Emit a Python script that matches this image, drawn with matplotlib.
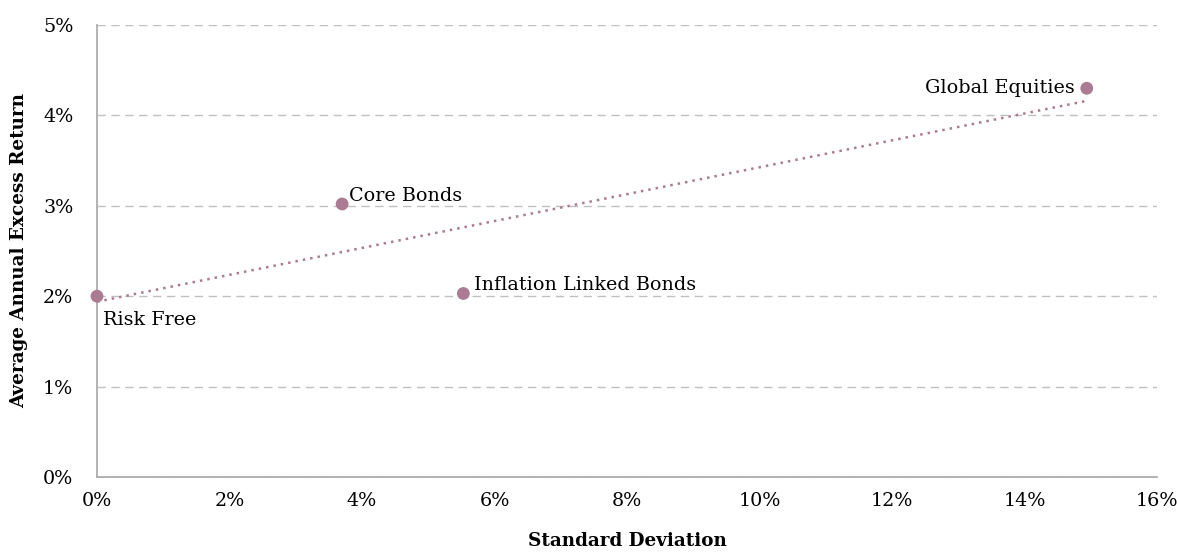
import numpy as np
import matplotlib
matplotlib.use("Agg")
import matplotlib.pyplot as plt
from matplotlib.ticker import FuncFormatter

names = ["Risk Free", "Core Bonds", "Inflation Linked Bonds", "Global Equities"]
std_dev = [0.0, 3.70, 5.53, 14.94]
excess_ret = [2.00, 3.02, 2.03, 4.30]
label_offsets = [(4, -17), (5, 6), (8, 6), (-9, 0.5)]
label_ha = ["left", "left", "left", "right"]

plt.rcParams['font.family'] = ['DejaVu Serif']
col = '#aa7b93'
fs = 13.8
fsb = 13.2

fig = plt.figure(figsize=(11.77, 5.59), dpi=100)
ax = fig.add_axes([0.0824, 0.1467, 0.9006, 0.8086])

x = np.array(std_dev)
y = np.array(excess_ret)
m, b = np.polyfit(x, y, 1)
xl = np.array([0.0, x.max()])
ax.plot(xl, m * xl + b, linestyle=(0, (1, 2)), color=col, lw=1.8, zorder=2)
ax.scatter(x, y, s=85, color=col, zorder=3, clip_on=False, edgecolors='none')

for n, xi, yi, off, ha in zip(names, x, y, label_offsets, label_ha):
    ax.annotate(n, (xi, yi), xytext=off, textcoords='offset points',
                ha=ha, va='center', fontsize=fs, color='black')

ax.set_xlim(0, 16)
ax.set_ylim(0, 5)
ax.set_xticks(np.arange(0, 17, 2))
ax.set_yticks(np.arange(0, 6, 1))
ax.xaxis.set_major_formatter(FuncFormatter(lambda v, p: f"{v:.0f}%"))
ax.yaxis.set_major_formatter(FuncFormatter(lambda v, p: f"{v:.0f}%"))
ax.tick_params(axis='x', length=0, labelsize=fs, pad=11)
ax.tick_params(axis='y', length=0, labelsize=fs, pad=17)
ax.yaxis.grid(True, linestyle=(0, (6, 4)), color='#c0c0c0', lw=1)
ax.set_axisbelow(True)
for s in ['top', 'right']:
    ax.spines[s].set_visible(False)
for s in ['left', 'bottom']:
    ax.spines[s].set_color('#a6a6a6')
    ax.spines[s].set_linewidth(1.2)

ax.set_xlabel("Standard Deviation", fontsize=fsb, fontweight='bold', labelpad=16)
ax.set_ylabel("Average Annual Excess Return", fontsize=fsb, fontweight='bold', labelpad=11)

fig.savefig("out.png", dpi=100)
